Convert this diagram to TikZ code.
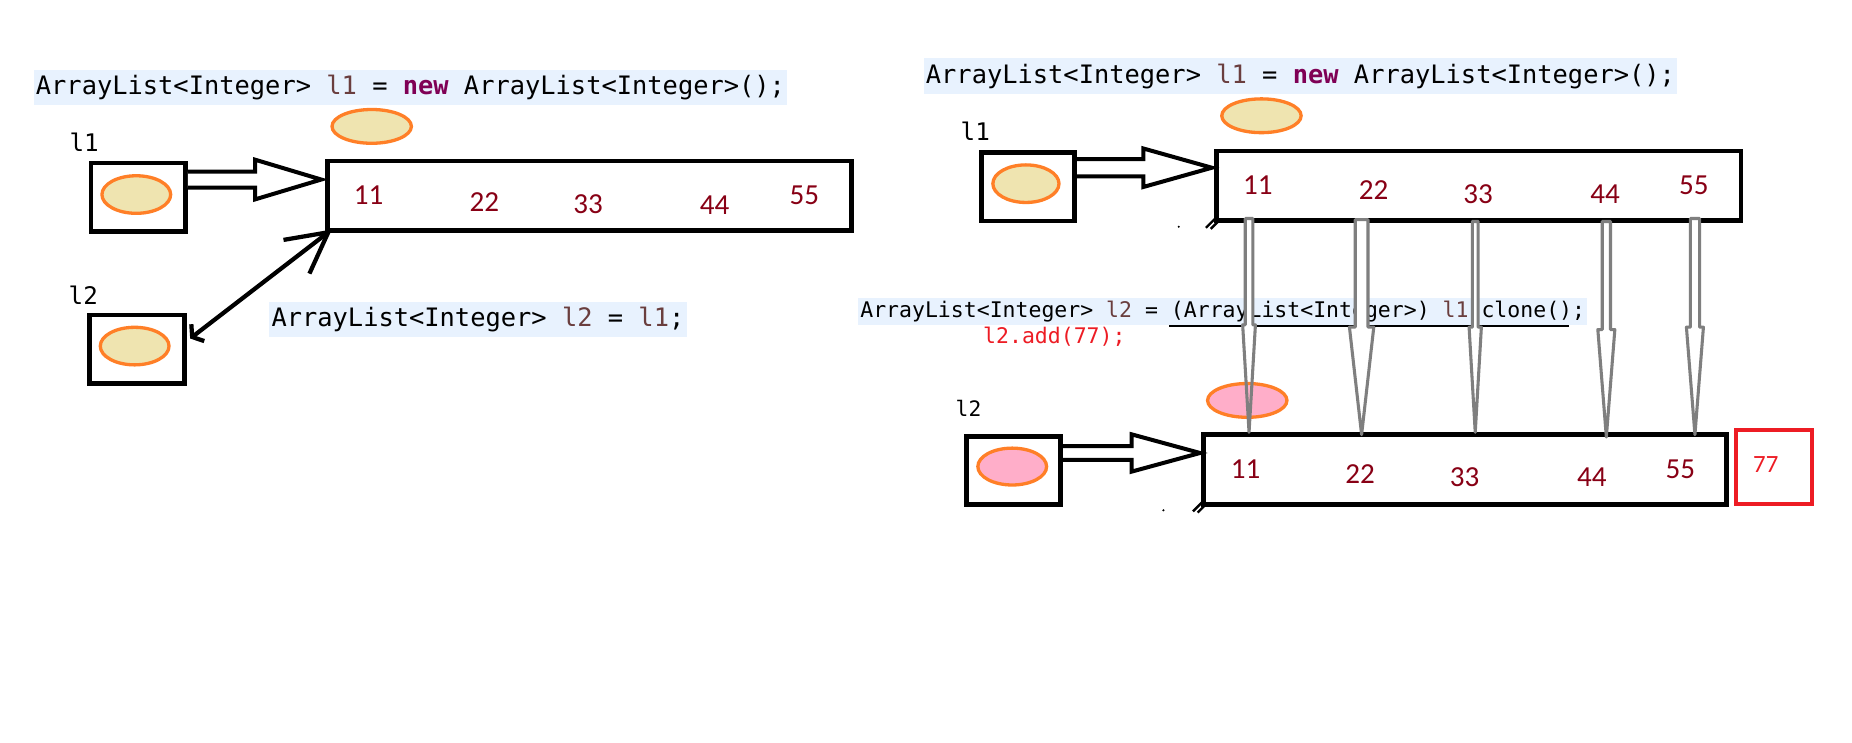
\documentclass[tikz,border=0pt]{standalone}
\usepackage{fontspec}
\usetikzlibrary{shapes.geometric,arrows.meta,calc}
\newfontfamily\codefont{DejaVu Sans Mono}
\newfontfamily\numfont{Carlito}
\definecolor{hlblue}{HTML}{E8F2FE}
\definecolor{varbrown}{HTML}{6A3E3E}
\definecolor{kwpurple}{HTML}{7F0055}
\definecolor{numred}{HTML}{880015}
\definecolor{paintred}{HTML}{ED1C24}
\definecolor{objorange}{HTML}{FF7F27}
\definecolor{objfill}{HTML}{EFE4B0}
\definecolor{objpink}{HTML}{FFAEC9}
\definecolor{copygray}{HTML}{7F7F7F}

% hollow block arrow: start node, tip coordinate, shaft half width, head half width, head length
\newcommand\hollowarrow[5]{%
  \draw[blockarrow] ($(#1 |- #2)+(0,#3)$) -- ($(#2)+(-#5,#3)$) -- ($(#2)+(-#5,#4)$) -- (#2)
    -- ($(#2)+(-#5,-#4)$) -- ($(#2)+(-#5,-#3)$) -- ($(#1 |- #2)+(0,-#3)$);}

% the five copy arrows between the two lists: x, shaft half, head half, top, head start, tip
\newcommand\copyarrows[1]{%
  \foreach \gx/\gs/\gh/\gt/\gb/\gp in {1057.5/3.2/5.4/185/275/366, 1152.8/5.4/10.3/186/277/368,
      1249/2.5/5.2/187.5/277/366, 1360/3.5/7.2/187.5/279/370, 1435/3.9/7.2/185/277/368}
    \path[#1] (\gx-\gs,\gt) -- (\gx-\gs,\gb) -- (\gx-\gh,\gb) -- (\gx,\gp) -- (\gx+\gh,\gb)
      -- (\gx+\gs,\gb) -- (\gx+\gs,\gt) -- cycle;}

\begin{document}
\begin{tikzpicture}[x=0.5pt,y=-0.5pt,
  code/.style={fill=hlblue, inner xsep=1pt, inner ysep=0pt, anchor=west,
    font=\codefont\fontsize{10.75pt}{12pt}\selectfont, minimum height=15pt},
  smallcode/.style={font=\codefont\fontsize{9.1pt}{11pt}\selectfont},
  refbox/.style={draw=black, line width=2pt, minimum width=40pt, minimum height=29pt, inner sep=0pt},
  listbox/.style={draw=black, line width=2pt, minimum width=222pt, minimum height=29.5pt, inner sep=0pt},
  obj/.style={ellipse, draw=objorange, line width=1.4pt, fill=objfill, inner sep=0pt,
    minimum width=33.6pt, minimum height=14.3pt},
  inobj/.style={obj, minimum width=29.1pt, minimum height=15.9pt},
  val/.style={text=numred, font=\numfont\fontsize{12.3pt}{14pt}\selectfont, inner sep=0pt},
  varname/.style={font=\codefont\fontsize{10.25pt}{12pt}\selectfont, inner sep=0pt},
  blockarrow/.style={draw=black, line width=1.7pt, fill=white, line join=miter},
  ptr/.style={draw=black, line width=1.8pt},
]
\fill[white] (0,0) rectangle (1568,629);
\useasboundingbox (0,0) rectangle (1568,629);

% ---------------- l2 = l1 : shared reference ----------------
\node[code] (codeA) at (28,74) {ArrayList<Integer> \textcolor{varbrown}{l1} = \textcolor{kwpurple}{\bfseries new} ArrayList<Integer>();};
\node[obj] (objA) at (314.7,107) {};
\node[varname] (nameA1) at (71.3,120.2) {l1};
\node[refbox] (refA1) at (117,167) {};
\node[inobj] (inA1) at (115.4,164.7) {};
\node[listbox] (arrA) at (499,165.8) {};
\node[val] (a11) at (312,165) {11};
\node[val] (a22) at (410,171) {22};
\node[val] (a33) at (498,173) {33};
\node[val] (a44) at (605,174) {44};
\node[val] (a55) at (681,165) {55};
\coordinate (tA) at ($(arrA.west)+(-3,-13.8)$);
\hollowarrow{refA1.east}{tA}{6.8}{16.8}{56}

\node[varname] (nameA2) at (70.5,249.6) {l2};
\node[refbox] (refA2) at (116,295.6) {};
\node[inobj] (inA2) at (114,293) {};
\node[code] (codeB) at (227.5,270.5) {ArrayList<Integer> \textcolor{varbrown}{l2} = \textcolor{varbrown}{l1};};
\draw[ptr, {Straight Barb[length=3pt,width=9pt]}-{Straight Barb[length=17pt,width=18pt]}]
  ($(refA2.east)+(3,-9)$) -- ($(arrA.south west)+(6,-3)$);

% ---------------- clone() : separate copy ----------------
\node[code] (codeC) at (781.5,64.5) {ArrayList<Integer> \textcolor{varbrown}{l1} = \textcolor{kwpurple}{\bfseries new} ArrayList<Integer>();};
\node[obj] (objB) at (1068,98) {};
\node[varname] (nameB1) at (825.7,111.5) {l1};
\node[refbox, minimum width=39.5pt] (refB1) at (870.5,158) {};
\node[inobj, minimum width=28pt] (inB1) at (868.6,155.5) {};
\node[listbox] (arrB) at (1252,157.3) {};
\node[val] (b11) at (1065,156.7) {11};
\node[val] (b22) at (1163,161) {22};
\node[val] (b33) at (1251.5,164) {33};
\node[val] (b44) at (1359,164) {44};
\node[val] (b55) at (1434,157) {55};
\coordinate (tB) at ($(arrB.west)+(-2,-15.3)$);
\hollowarrow{refB1.east}{tB}{7.3}{16.3}{58}
\draw[line width=1pt] ($(arrB.south west)+(-7,4)$) -- ++(8,-8) ($(arrB.south west)+(-3,5)$) -- ++(8,-8);
\fill (998,192) circle (1);

\node[code, smallcode, minimum height=11.75pt] (codeD) at (726,263.8)
  {ArrayList<Integer> \textcolor{varbrown}{l2} = (ArrayList<Integer>) \textcolor{varbrown}{l1}.clone();};
\draw[line width=0.85pt] ($(codeD.south west)+(264,0)$) -- ++(338.5,0);
\node[smallcode, anchor=west, text=paintred, inner sep=0pt] (codeE) at (832,285.5) {l2.add(77);};

\node[varname, font=\codefont\fontsize{9pt}{11pt}\selectfont] (nameB2) at (820,345.7) {l2};
\node[refbox] (refB2) at (858,398.3) {};
\node[inobj, fill=objpink, minimum width=29.1pt, minimum height=15.6pt] (inB2) at (857,395) {};
\node[listbox, minimum width=221.5pt] (arrC) at (1240.5,397.5) {};
\node[val] (c11) at (1054.6,397) {11};
\node[val] (c22) at (1151.6,401.3) {22};
\node[val] (c33) at (1240,404) {33};
\node[val] (c44) at (1347.7,404) {44};
\node[val] (c55) at (1422.6,397) {55};
\coordinate (tC) at ($(arrC.west)+(-1,-14)$);
\hollowarrow{refB2.east}{tC}{5.8}{15.8}{58}
\draw[line width=1pt] ($(arrC.south west)+(-7,4)$) -- ++(8,-8) ($(arrC.south west)+(-3,5)$) -- ++(8,-8);
\fill (985,432) circle (1);

\node[draw=paintred, line width=1.7pt, minimum width=32.3pt, minimum height=31.3pt, inner sep=0pt] (newbox) at (1502,395.5) {};
\node[text=paintred, font=\numfont\fontsize{10.5pt}{12pt}\selectfont, inner sep=0pt] (v77) at (1495,393) {77};

% copy arrows: white bodies, the new object, then the outlines on top
\copyarrows{fill=white}
\node[obj, fill=objpink] (objC) at (1056,339) {};
\copyarrows{draw=copygray, line width=1.3pt, line join=round}
\end{tikzpicture}
\end{document}
